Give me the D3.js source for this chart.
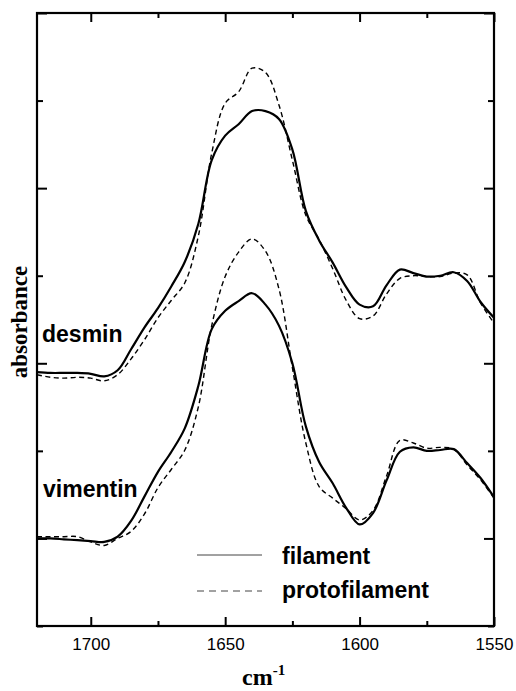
<!DOCTYPE html>
<html>
<head>
<meta charset="utf-8">
<script src="https://cdn.jsdelivr.net/npm/d3@7"></script>
<style>
  body { margin: 0; background: #fff; }
</style>
</head>
<body>
<div id="chart"></div>
<script>
// wavenumbers (cm-1), read every 5 units across the plot
var wavenumbers = [1720, 1715, 1710, 1705, 1700, 1695, 1690, 1685, 1680, 1675, 1670, 1665,
  1660, 1655, 1650, 1645, 1640, 1635, 1630, 1625, 1620, 1615, 1610, 1605, 1600, 1595,
  1590, 1585, 1580, 1575, 1570, 1565, 1560, 1555, 1550];

var desminFilament = [2.90, 2.89, 2.89, 2.89, 2.88, 2.85, 2.92, 3.16, 3.41, 3.63, 3.88, 4.16,
  4.59, 5.32, 5.60, 5.73, 5.88, 5.88, 5.79, 5.44, 4.74, 4.40, 4.15, 3.87, 3.67, 3.65,
  3.89, 4.07, 4.03, 3.99, 4.00, 4.04, 3.94, 3.70, 3.52];

var desminProto = [2.87, 2.84, 2.83, 2.84, 2.83, 2.80, 2.87, 3.05, 3.27, 3.52, 3.72, 3.92,
  4.45, 5.40, 5.97, 6.10, 6.37, 6.32, 5.95, 5.32, 4.69, 4.41, 4.08, 3.72, 3.51, 3.54,
  3.79, 3.97, 4.00, 3.99, 3.99, 4.03, 4.01, 3.69, 3.46];

var vimentinFilament = [1.00, 1.00, 0.99, 0.98, 0.97, 0.96, 1.02, 1.20, 1.48, 1.76, 1.99, 2.26,
  2.74, 3.39, 3.60, 3.71, 3.80, 3.67, 3.43, 3.00, 2.28, 1.87, 1.63, 1.35, 1.16, 1.29,
  1.66, 1.99, 2.04, 2.00, 2.01, 2.02, 1.86, 1.69, 1.47];

var vimentinProto = [1.02, 1.02, 1.02, 1.02, 0.96, 0.92, 1.00, 1.08, 1.28, 1.58, 1.79, 2.01,
  2.50, 3.43, 3.99, 4.27, 4.42, 4.28, 3.85, 2.95, 2.09, 1.59, 1.46, 1.34, 1.21, 1.32,
  1.71, 2.12, 2.09, 2.03, 2.04, 2.02, 1.84, 1.67, 1.46];

var xMajorTicks = [1700, 1650, 1600, 1550];
var xMinorTicks = [1675, 1625, 1575];
var yMajorTicks = [1, 3, 5, 7];
var yMinorTicks = [0, 2, 4, 6];

var width = 516, height = 691;
var margin = {top: 13, right: 22, bottom: 65, left: 37};
var w = width - margin.left - margin.right;
var h = height - margin.top - margin.bottom;

var svg = d3.select('#chart').append('svg')
  .attr('width', width).attr('height', height)
  .style('background', '#fff');

var g = svg.append('g')
  .attr('transform', 'translate(' + margin.left + ',' + margin.top + ')');

var x = d3.scaleLinear().domain([1720, 1550]).range([0, w]);
var y = d3.scaleLinear().domain([0, 7]).range([h, 0]);

g.append('clipPath').attr('id', 'clip')
  .append('rect').attr('width', w).attr('height', h);

// axes: ticks point inward, on all four sides
function tickAxis(axis, ticks, size, labels) {
  return axis.tickValues(ticks).tickSizeInner(-size).tickSizeOuter(0)
    .tickPadding(12).tickFormat(labels ? d3.format('d') : '');
}

var axes = [
  {a: tickAxis(d3.axisBottom(x), xMajorTicks, 9, true), t: 'translate(0,' + h + ')'},
  {a: tickAxis(d3.axisBottom(x), xMinorTicks, 5, false), t: 'translate(0,' + h + ')'},
  {a: tickAxis(d3.axisTop(x), xMajorTicks, 9, false), t: 'translate(0,0)'},
  {a: tickAxis(d3.axisTop(x), xMinorTicks, 5, false), t: 'translate(0,0)'},
  {a: tickAxis(d3.axisLeft(y), yMajorTicks, 10, false), t: 'translate(0,0)'},
  {a: tickAxis(d3.axisLeft(y), yMinorTicks, 6, false), t: 'translate(0,0)'},
  {a: tickAxis(d3.axisRight(y), yMajorTicks, 10, false), t: 'translate(' + w + ',0)'},
  {a: tickAxis(d3.axisRight(y), yMinorTicks, 6, false), t: 'translate(' + w + ',0)'}
];

axes.forEach(function(d) {
  var ax = g.append('g').attr('transform', d.t).call(d.a);
  ax.select('.domain').remove();
  ax.selectAll('line').attr('stroke', '#000').attr('stroke-width', 2);
  ax.selectAll('text')
    .attr('font-family', 'Liberation Sans, Arial, sans-serif')
    .attr('font-size', '17px').attr('fill', '#000');
});

g.append('rect')
  .attr('width', w).attr('height', h)
  .attr('fill', 'none').attr('stroke', '#000').attr('stroke-width', 2.2);

// spectra
var series = [
  {values: desminFilament, dash: null},
  {values: desminProto, dash: '5,3.5'},
  {values: vimentinFilament, dash: null},
  {values: vimentinProto, dash: '5,3.5'}
];

var line = d3.line()
  .x(function(d) { return x(d[0]); })
  .y(function(d) { return y(d[1]); })
  .curve(d3.curveCatmullRom.alpha(0.5));

g.append('g').attr('clip-path', 'url(#clip)')
  .selectAll('path').data(series).enter().append('path')
  .attr('d', function(s) { return line(d3.zip(wavenumbers, s.values)); })
  .attr('fill', 'none')
  .attr('stroke', '#000')
  .attr('stroke-width', function(s) { return s.dash ? 1.4 : 2.2; })
  .attr('stroke-dasharray', function(s) { return s.dash; });

// curve names
var sans = 'Liberation Sans, Arial, Helvetica, sans-serif';
var serif = 'Liberation Serif, Times New Roman, serif';

svg.append('text').attr('x', 42).attr('y', 342).text('desmin')
  .attr('font-family', sans).attr('font-weight', 'bold').attr('font-size', '23px');
svg.append('text').attr('x', 43).attr('y', 497).text('vimentin')
  .attr('font-family', sans).attr('font-weight', 'bold').attr('font-size', '23px');

// legend
var legend = svg.append('g');
legend.append('line').attr('x1', 197).attr('x2', 262).attr('y1', 555).attr('y2', 555)
  .attr('stroke', '#444').attr('stroke-width', 1);
legend.append('line').attr('x1', 197).attr('x2', 262).attr('y1', 591).attr('y2', 591)
  .attr('stroke', '#444').attr('stroke-width', 1).attr('stroke-dasharray', '7,5');
legend.append('text').attr('x', 282).attr('y', 564).text('filament')
  .attr('font-family', sans).attr('font-weight', 'bold').attr('font-size', '23px');
legend.append('text').attr('x', 282).attr('y', 598).text('protofilament')
  .attr('font-family', sans).attr('font-weight', 'bold').attr('font-size', '23px');

// axis titles
svg.append('text')
  .attr('transform', 'translate(27,322) rotate(-90)')
  .attr('text-anchor', 'middle')
  .attr('font-family', serif).attr('font-weight', 'bold').attr('font-size', '23px')
  .text('absorbance');

var xt = svg.append('text')
  .attr('x', 242).attr('y', 685)
  .attr('font-family', serif).attr('font-weight', 'bold').attr('font-size', '24px');
xt.append('tspan').text('cm');
xt.append('tspan').attr('dy', -10).attr('font-size', '15px').text('-1');
</script>
</body>
</html>
